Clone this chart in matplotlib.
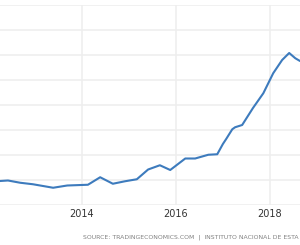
import matplotlib
matplotlib.use('Agg')
import matplotlib.pyplot as plt

# values (year, value on arbitrary gridline units)
years = [2012.20, 2012.26, 2012.43, 2012.69, 2012.96, 2013.39, 2013.69, 2014.13,
         2014.39, 2014.66, 2014.92, 2015.17, 2015.41, 2015.66, 2015.88, 2016.20,
         2016.41, 2016.69, 2016.88, 2017.00, 2017.07, 2017.20, 2017.26, 2017.41,
         2017.64, 2017.86, 2018.07, 2018.26, 2018.41, 2018.54, 2018.64]
values = [0.95, 0.96, 0.98, 0.89, 0.83, 0.69, 0.78, 0.81,
          1.11, 0.85, 0.95, 1.03, 1.42, 1.59, 1.40, 1.86,
          1.86, 2.01, 2.03, 2.44, 2.64, 3.03, 3.11, 3.20,
          3.88, 4.47, 5.27, 5.80, 6.08, 5.87, 5.76]
tick_years = [2014, 2016, 2018]
tick_labels = ['2014', '2016', '2018']
source = 'SOURCE: TRADINGECONOMICS.COM  |  INSTITUTO NACIONAL DE ESTA'

fig = plt.figure(figsize=(3.0, 2.45), dpi=100)
ax = fig.add_axes([0, 40 / 245, 1, 200 / 245])

ax.plot(years, values, color='#3d7bbd', lw=1.5, solid_joinstyle='round',
        solid_capstyle='round')

ax.set_xlim(2012.26, 2018.64)
ax.set_ylim(0, 8)
ax.set_yticks(range(9))
ax.set_xticks(tick_years)
ax.set_xticklabels(tick_labels)
ax.grid(True, color='#eeeeee', lw=1.1)
ax.set_axisbelow(True)
for s in ax.spines.values():
    s.set_visible(False)
ax.tick_params(axis='both', length=0)
ax.tick_params(axis='x', labelsize=7, colors='#333333', pad=3)
ax.tick_params(axis='y', labelleft=False)

fig.text(83 / 300, 1 - 237 / 245, source, fontsize=4.4, color='#808080',
         ha='left', va='center')

fig.savefig('out.png', dpi=100)
